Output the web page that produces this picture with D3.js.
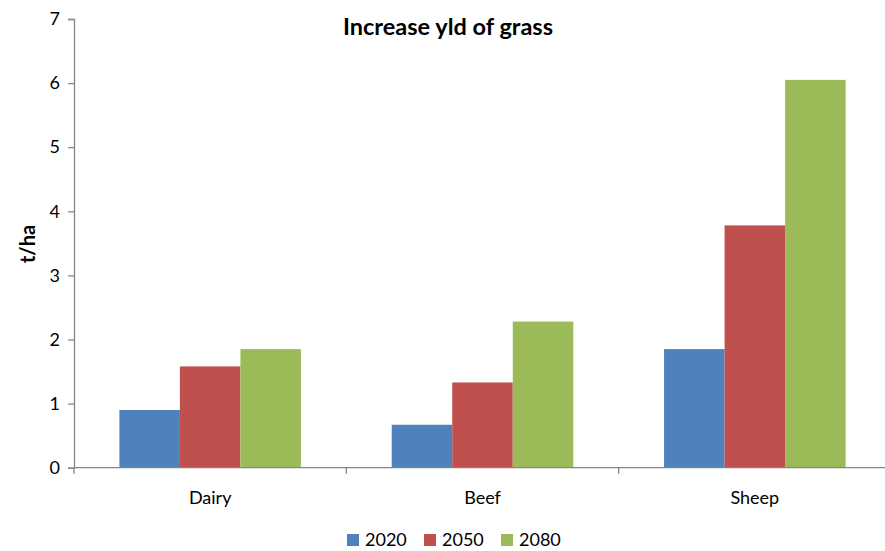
<!DOCTYPE html>
<html>
<head>
<meta charset="utf-8">
<script src="https://cdn.jsdelivr.net/npm/d3@7"></script>
<style>
  html, body { margin: 0; padding: 0; background: #fff; }
  svg { display: block; font-family: Lato, "Open Sans", sans-serif; }
</style>
</head>
<body>
<svg id="chart" width="885" height="551"></svg>
<script>
// Grass yield increase (t/ha) by livestock sector and scenario year
const categories = ["Dairy", "Beef", "Sheep"];
const seriesNames = ["2020", "2050", "2080"];
const values2020 = [0.90, 0.67, 1.85];
const values2050 = [1.58, 1.33, 3.78];
const values2080 = [1.85, 2.28, 6.05];
const yTicks = [0, 1, 2, 3, 4, 5, 6, 7];
const colors = ["#4f81bd", "#c0504d", "#9bbb59"];

const seriesValues = [values2020, values2050, values2080];

const svg = d3.select("#chart");
const plotLeft = 74, plotRight = 891, plotTop = 19, plotBottom = 467.7;

const x0 = d3.scaleBand().domain(categories).range([plotLeft, plotRight]).paddingInner(0).paddingOuter(0);
const bandW = x0.bandwidth();
const gapFrac = 1.5 / 4.5; // gap width 150% of a bar
const x1 = d3.scaleBand().domain(seriesNames)
  .range([bandW * gapFrac / 2, bandW - bandW * gapFrac / 2]).padding(0);
const y = d3.scaleLinear().domain([0, 7]).range([plotBottom, plotTop]);

// Bars
const groups = svg.append("g").selectAll("g")
  .data(categories).join("g")
  .attr("transform", d => `translate(${x0(d)},0)`);

groups.selectAll("rect")
  .data((c, ci) => seriesNames.map((s, si) => ({ s, v: seriesValues[si][ci], si })))
  .join("rect")
  .attr("x", d => x1(d.s))
  .attr("y", d => y(d.v))
  .attr("width", x1.bandwidth())
  .attr("height", d => y(0) - y(d.v))
  .attr("fill", d => colors[d.si]);

// Y axis
const yAxis = svg.append("g")
  .attr("transform", `translate(${plotLeft},0)`)
  .call(d3.axisLeft(y).tickValues(yTicks).tickFormat(d3.format("d")).tickSize(6).tickPadding(8));
yAxis.select(".domain").attr("stroke", "#868686").attr("stroke-width", 1.3);
yAxis.selectAll(".tick line").attr("stroke", "#868686").attr("stroke-width", 1.3);
yAxis.selectAll(".tick text").attr("font-size", 18).attr("fill", "#000")
  .attr("font-family", "Lato, sans-serif");

// X axis
const xAxisG = svg.append("g").attr("transform", `translate(0,${plotBottom})`);
xAxisG.append("line")
  .attr("x1", plotLeft).attr("x2", plotRight).attr("y1", 0).attr("y2", 0)
  .attr("stroke", "#868686").attr("stroke-width", 1.3);
const boundaries = categories.map(c => x0(c)).concat([plotRight]);
xAxisG.selectAll(".xtick").data(boundaries).join("line")
  .attr("x1", d => d).attr("x2", d => d).attr("y1", 0).attr("y2", 6)
  .attr("stroke", "#868686").attr("stroke-width", 1.3);
xAxisG.selectAll(".xlabel").data(categories).join("text")
  .attr("x", d => x0(d) + bandW / 2)
  .attr("y", 36)
  .attr("text-anchor", "middle")
  .attr("font-size", 18)
  .text(d => d);

// Title
svg.append("text")
  .attr("x", 448).attr("y", 34.5)
  .attr("text-anchor", "middle")
  .attr("font-size", 23.5).attr("font-weight", "bold")
  .text("Increase yld of grass");

// Y axis title
svg.append("text")
  .attr("transform", `translate(35,244) rotate(-90)`)
  .attr("text-anchor", "middle")
  .attr("font-size", 20).attr("font-weight", "bold")
  .text("t/ha");

// Legend
const legendX = [347, 424, 501];
const legend = svg.append("g").selectAll("g")
  .data(seriesNames).join("g")
  .attr("transform", (d, i) => `translate(${legendX[i]},534)`);
legend.append("rect").attr("width", 12).attr("height", 12)
  .attr("fill", (d, i) => colors[i]);
legend.append("text").attr("x", 18).attr("y", 12)
  .attr("font-size", 18).text(d => d);
</script>
</body>
</html>
